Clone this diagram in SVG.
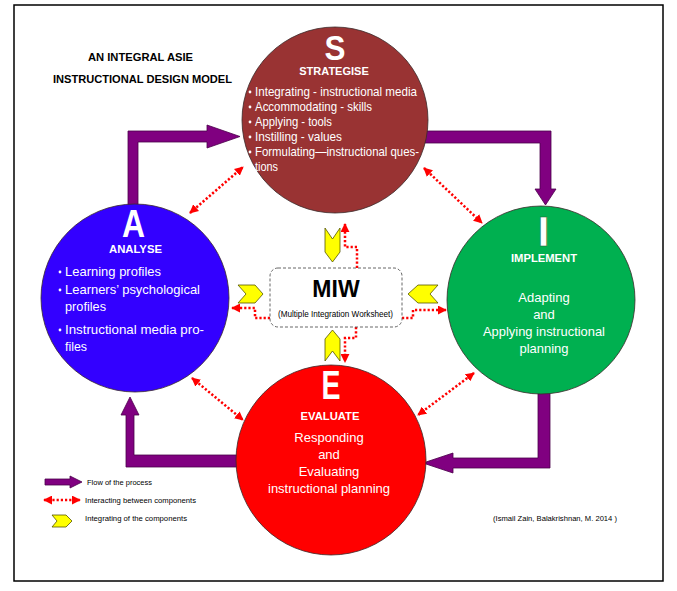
<svg xmlns="http://www.w3.org/2000/svg" width="677" height="591" viewBox="0 0 677 591">
<style>
.frame{fill:#fff;stroke:#000;stroke-width:1.5}
.circ{stroke:#3a2a2a;stroke-width:0.8}
.flow{fill:#800080;stroke:#4a004a;stroke-width:0.8}
.dot{fill:none;stroke:#f00;stroke-width:2.5;stroke-dasharray:2.2 2}
.chev{fill:#ff0;stroke:#555500;stroke-width:0.8}
.w{fill:#fff;font-family:"Liberation Sans",Arial,sans-serif}
.big{font-weight:bold;text-anchor:middle}
.hd{font-weight:bold;font-size:11px;text-anchor:middle}
.bl{font-size:13px}
.c{font-size:13px;text-anchor:middle}
.k{fill:#000;font-family:"Liberation Sans",Arial,sans-serif}
.t{font-weight:bold;font-size:11px}
.s{font-size:8px}
</style>
<defs>
<marker id="rh" viewBox="0 0 10 10" refX="9" refY="5" markerUnits="userSpaceOnUse" markerWidth="9" markerHeight="9" orient="auto-start-reverse">
<path d="M0,0 L10,5 L0,10 z" fill="#f00"/>
</marker>
</defs>
<rect x="0" y="0" width="677" height="591" fill="#fff"/>
<rect class="frame" x="14" y="5" width="649" height="576"/>

<g id="title">
<text class="k t" x="88" y="61" textLength="105" lengthAdjust="spacingAndGlyphs">AN  INTEGRAL ASIE</text>
<text class="k t" x="53" y="83" textLength="179" lengthAdjust="spacingAndGlyphs">INSTRUCTIONAL  DESIGN MODEL</text>
</g>

<g id="connectors">
<polygon class="flow" points="128,205 128,131 207,131 207,125 240,136.5 207,148 207,142 138,142 138,205"/>
<polygon class="flow" points="420,131 551,131 551,189 556,189 545.5,205 535,189 540,189 540,143 420,143"/>
<polygon class="flow" points="538,385 550,385 550,468 453,468 453,473 423,463 453,453 453,458 538,458"/>
<polygon class="flow" points="245,455 245,467 126,467 126,415 121,415 130,397 139,415 134,415 134,455"/>
<line class="dot" x1="190" y1="213" x2="243" y2="167" marker-start="url(#rh)" marker-end="url(#rh)"/>
<line class="dot" x1="424" y1="168" x2="482" y2="223" marker-start="url(#rh)" marker-end="url(#rh)"/>
<line class="dot" x1="192" y1="378" x2="243" y2="420" marker-start="url(#rh)" marker-end="url(#rh)"/>
<line class="dot" x1="474" y1="373" x2="418" y2="415" marker-start="url(#rh)" marker-end="url(#rh)"/>
<polyline class="dot" points="357,268 357,247 345,247 345,224" marker-end="url(#rh)"/>
<polyline class="dot" points="356,327 356,338 345,338 345,362" marker-end="url(#rh)"/>
<polyline class="dot" points="270,318 255,318 255,308 232,308" marker-end="url(#rh)"/>
<polyline class="dot" points="402,318 413,318 413,310 446,310" marker-end="url(#rh)"/>
<polygon class="chev" points="325,228 332.5,239 340,228 340,252 332.5,262 325,252"/>
<polygon class="chev" points="325,339 332.5,330 340,339 340,361 332.5,351 325,361"/>
<polygon class="chev" points="238,285 255,285 263,294 255,303 238,303 246,294"/>
<polygon class="chev" points="438,285 418,285 408,294 418,303 438,303 430,294"/>
</g>

<g id="strategise">
<circle class="circ" cx="335" cy="120" r="93" fill="#993333"/>
<text class="w big" x="335" y="60" font-size="35" textLength="21" lengthAdjust="spacingAndGlyphs">S</text>
<text class="w hd" x="334" y="75">STRATEGISE</text>
<g fill="#fff"><circle cx="250" cy="92" r="1.4"/><circle cx="250" cy="107" r="1.4"/><circle cx="250" cy="122" r="1.4"/><circle cx="250" cy="137" r="1.4"/><circle cx="250" cy="152" r="1.4"/></g>
<text class="w bl" x="255" y="96" textLength="162" lengthAdjust="spacingAndGlyphs">Integrating  - instructional media</text>
<text class="w bl" x="255" y="111" textLength="117" lengthAdjust="spacingAndGlyphs">Accommodating - skills</text>
<text class="w bl" x="255" y="126" textLength="77" lengthAdjust="spacingAndGlyphs">Applying - tools</text>
<text class="w bl" x="255" y="141" textLength="87" lengthAdjust="spacingAndGlyphs">Instilling -  values</text>
<text class="w bl" x="255" y="156" textLength="164" lengthAdjust="spacingAndGlyphs">Formulating—instructional ques-</text>
<text class="w bl" x="255" y="171" textLength="23" lengthAdjust="spacingAndGlyphs">tions</text>
</g>

<g id="analyse">
<circle class="circ" cx="135" cy="298" r="94" fill="#3300ff"/>
<text class="w big" x="133.5" y="237" font-size="39" textLength="23" lengthAdjust="spacingAndGlyphs">A</text>
<text class="w hd" x="135.5" y="253" textLength="53" lengthAdjust="spacingAndGlyphs">ANALYSE</text>
<g fill="#fff"><circle cx="60" cy="272" r="1.4"/><circle cx="60" cy="290" r="1.4"/><circle cx="60" cy="330" r="1.4"/></g>
<text class="w bl" x="65" y="276" textLength="96" lengthAdjust="spacingAndGlyphs">Learning profiles</text>
<text class="w bl" x="65" y="294" textLength="135" lengthAdjust="spacingAndGlyphs">Learners’ psychological</text>
<text class="w bl" x="65" y="311" textLength="41" lengthAdjust="spacingAndGlyphs">profiles</text>
<text class="w bl" x="65" y="334" textLength="139" lengthAdjust="spacingAndGlyphs">Instructional media  pro-</text>
<text class="w bl" x="65" y="351" textLength="22" lengthAdjust="spacingAndGlyphs">files</text>
</g>

<g id="implement">
<circle class="circ" cx="541" cy="300" r="94" fill="#00b050"/>
<text class="w big" x="543.5" y="246" font-size="43" stroke="#2a5a2a" stroke-width="0.5">I</text>
<text class="w hd" x="544" y="262" textLength="66" lengthAdjust="spacingAndGlyphs">IMPLEMENT</text>
<text class="w c" x="544" y="302">Adapting</text>
<text class="w c" x="544" y="319">and</text>
<text class="w c" x="544" y="336" textLength="122" lengthAdjust="spacingAndGlyphs">Applying instructional</text>
<text class="w c" x="544" y="353">planning</text>
</g>

<g id="evaluate">
<circle class="circ" cx="331" cy="460" r="95" fill="#ff0000"/>
<text class="w big" x="331" y="399" font-size="40" textLength="19" lengthAdjust="spacingAndGlyphs">E</text>
<text class="w hd" x="330" y="420" textLength="59" lengthAdjust="spacingAndGlyphs">EVALUATE</text>
<text class="w c" x="329" y="442">Responding</text>
<text class="w c" x="329" y="459">and</text>
<text class="w c" x="329" y="476">Evaluating</text>
<text class="w c" x="329" y="493" textLength="122" lengthAdjust="spacingAndGlyphs">instructional planning</text>
</g>

<g id="miw">
<rect x="270" y="268" width="132" height="59" rx="8" ry="8" fill="#fff" stroke="#555" stroke-width="0.9" stroke-dasharray="3 2"/>
<text class="k" x="336" y="297" font-size="23" font-weight="bold" text-anchor="middle">MIW</text>
<text class="k" x="278" y="317" font-size="9.5" textLength="115" lengthAdjust="spacingAndGlyphs">(Multiple Integration Worksheet)</text>
</g>

<g id="legend">
<polygon class="flow" points="45,479 70,479 70,476 82,482 70,488 70,485 45,485"/>
<text class="k s" x="87" y="485" textLength="65" lengthAdjust="spacingAndGlyphs">Flow of the process</text>
<line class="dot" x1="44" y1="500" x2="80" y2="500" marker-start="url(#rh)" marker-end="url(#rh)"/>
<text class="k s" x="85" y="503" textLength="111" lengthAdjust="spacingAndGlyphs">Interacting between components</text>
<polygon class="chev" points="52,515 66,515 72,521 66,527 52,527 57,521"/>
<text class="k s" x="85" y="521" textLength="102" lengthAdjust="spacingAndGlyphs">Integrating of the components</text>
</g>

<g id="citation">
<text class="k s" x="493" y="521" textLength="124" lengthAdjust="spacingAndGlyphs">(Ismail  Zain, Balakrishnan, M. 2014 )</text>
</g>
</svg>
